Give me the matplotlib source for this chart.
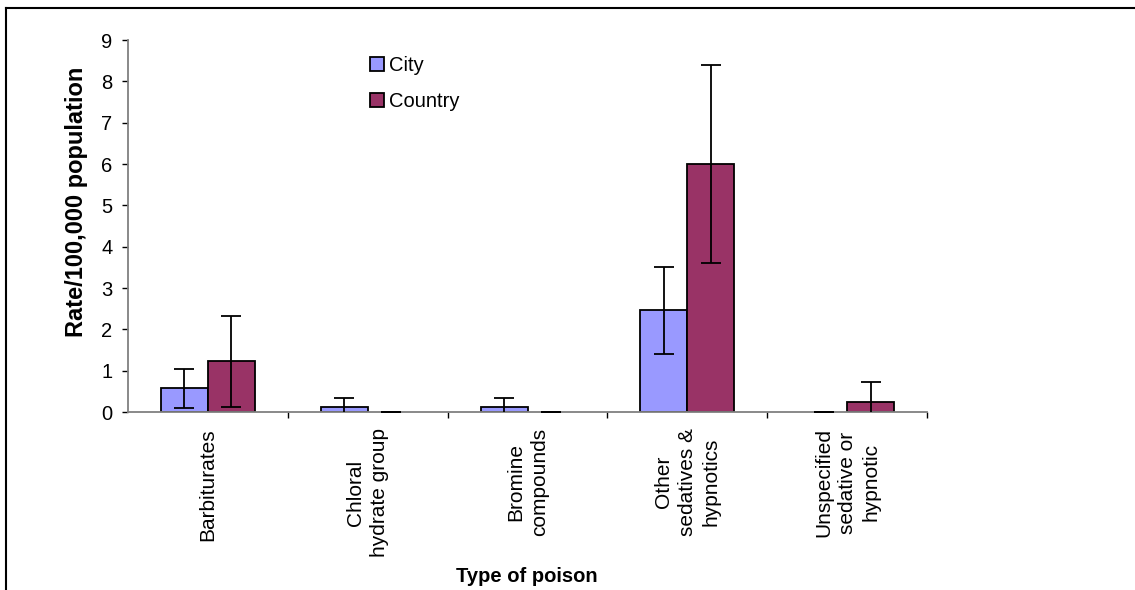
import matplotlib
matplotlib.use("Agg")
import matplotlib.pyplot as plt
from matplotlib.lines import Line2D
import numpy as np

categories = ["Barbiturates", "Chloral\nhydrate group", "Bromine\ncompounds",
              "Other\nsedatives &\nhypnotics", "Unspecified\nsedative or\nhypnotic"]
city = [0.57, 0.11, 0.11, 2.46, 0.0]
city_err = [0.47, 0.23, 0.23, 1.05, 0.0]
country = [1.23, 0.0, 0.0, 6.0, 0.23]
country_err = [1.10, 0.0, 0.0, 2.40, 0.49]
yticks = list(range(0, 10))

W, H, DPI = 1135, 590, 100
plt.rcParams["font.family"] = ["Liberation Sans", "DejaVu Sans"]

fig = plt.figure(figsize=(W / DPI, H / DPI), dpi=DPI)
ax = fig.add_axes([128 / W, 1 - 412 / H, (927 - 128) / W, (412 - 40) / H])

x = np.arange(len(categories))
bw = 0.293
err_kw = dict(ecolor="black", elinewidth=1.3, capsize=7.2, capthick=1.3)

for vals, errs, off, col, lab in [(city, city_err, -bw / 2, "#9999FF", "City"),
                                  (country, country_err, bw / 2, "#993366", "Country")]:
    lw = [1.3 if v > 0 else 0 for v in vals]
    ax.bar(x + off, vals, width=bw, color=col, edgecolor="black",
           linewidth=lw, label=lab, zorder=2)
    ax.errorbar(x + off, vals, yerr=errs, fmt="none", zorder=3, **err_kw)

ax.set_xlim(-0.5, len(categories) - 0.5)
ax.set_ylim(0, 9)
ax.set_yticks(yticks)
ax.tick_params(axis="y", direction="out", length=4.3, width=1.0, color="black",
               labelsize=14.5, pad=7)

# category boundaries carry the tick marks, centres carry the labels
ax.set_xticks(np.arange(0.5, len(categories), 1.0))
ax.set_xticklabels([])
ax.set_xticks(x, minor=True)
ax.set_xticklabels(categories, minor=True, rotation=90, ha="center", va="top",
                   linespacing=1.3, fontsize=15)
ax.tick_params(axis="x", which="major", direction="out", length=4.3, width=1.0,
               color="black")
ax.tick_params(axis="x", which="minor", length=0, pad=11.5)

for s in ["top", "right"]:
    ax.spines[s].set_visible(False)
for s in ["left", "bottom"]:
    ax.spines[s].set_color("#808080")
    ax.spines[s].set_linewidth(1.3)
ax.set_facecolor("white")

leg = ax.legend(loc="upper left", bbox_to_anchor=(370 / W, 1 - 56 / H),
                bbox_transform=fig.transFigure, frameon=False, fontsize=14.5,
                handlelength=0.7, handleheight=0.7, handletextpad=0.25,
                labelspacing=0.85, borderpad=0, borderaxespad=0)
for p in leg.get_patches():
    p.set_linewidth(1.3)

fig.text(77 / W, 1 - 202 / H, "Rate/100,000 population", rotation=90,
         ha="center", va="center", fontsize=17, fontweight="bold")
fig.text(527 / W, 1 - 577 / H, "Type of poison", ha="center", va="center",
         fontsize=14.5, fontweight="bold")

# outer chart frame
fig.add_artist(Line2D([6 / W, 1.0], [1 - 8 / H, 1 - 8 / H], transform=fig.transFigure,
                      color="black", linewidth=1.5))
fig.add_artist(Line2D([6 / W, 6 / W], [1 - 8 / H, 0.0], transform=fig.transFigure,
                      color="black", linewidth=1.5))

fig.savefig("out.png", dpi=DPI, facecolor="white")
